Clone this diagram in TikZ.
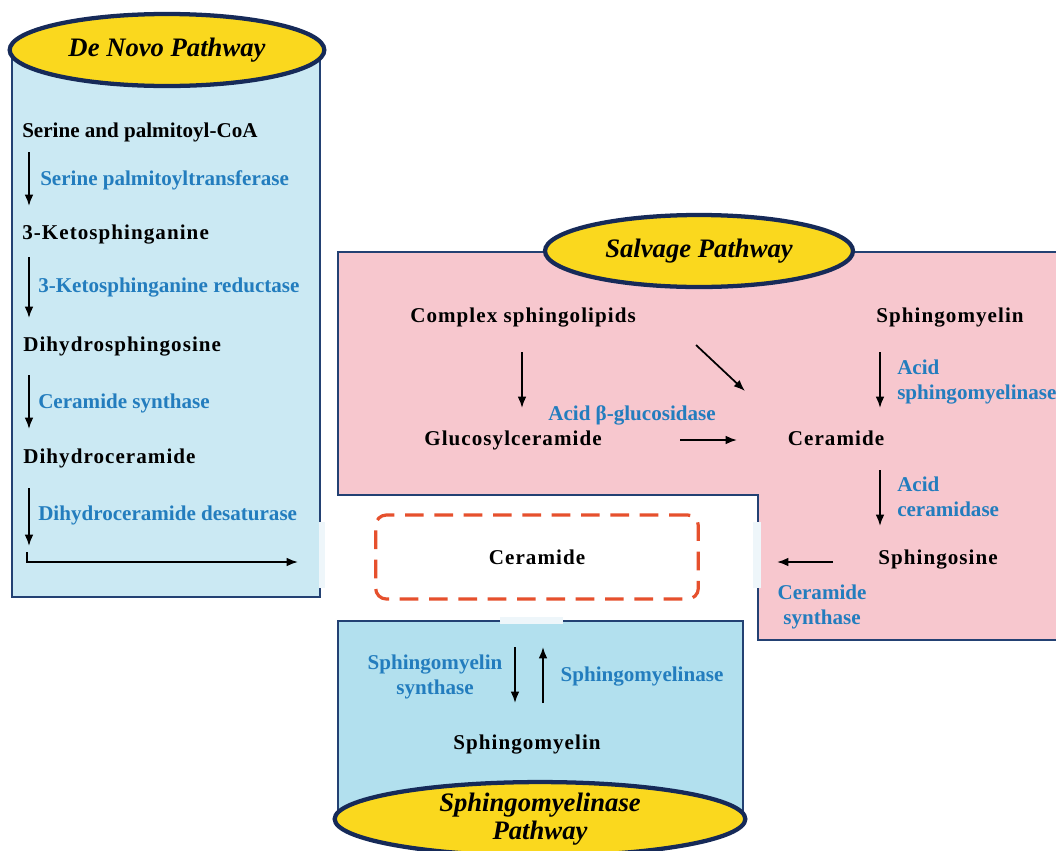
\documentclass[tikz,border=0pt]{standalone}
\usepackage{fontspec}
\setmainfont{Liberation Serif}
\newfontfamily\spfont[LetterSpace=5]{Liberation Serif}
\usetikzlibrary{arrows.meta,shapes.geometric}
\definecolor{denovo}{RGB}{203,233,243}
\definecolor{smbox}{RGB}{178,224,238}
\definecolor{pinkbox}{RGB}{247,199,206}
\definecolor{boxborder}{RGB}{35,65,115}
\definecolor{ellyellow}{RGB}{250,216,30}
\definecolor{ellborder}{RGB}{22,42,88}
\definecolor{enzblue}{RGB}{35,125,190}
\definecolor{dashred}{RGB}{230,80,45}
\definecolor{gapcol}{RGB}{238,246,250}
\begin{document}
\begin{tikzpicture}[x=0.75pt,y=-0.75pt,
  lbl/.style={font=\fontsize{15.8}{18.75}\selectfont\bfseries, text=black, inner sep=0},
  slbl/.style={font=\fontsize{15.8}{18.75}\selectfont\spfont\bfseries, text=black, inner sep=0},
  enz/.style={font=\fontsize{15.8}{18.75}\selectfont\bfseries, text=enzblue, inner sep=0},
  pathell/.style={ellipse, draw=ellborder, line width=3.2pt, fill=ellyellow, inner sep=0,
    font=\fontsize{20}{21}\selectfont\bfseries\itshape, align=center},
  arr/.style={-{Latex[length=8.5pt,width=6.5pt]}, line width=1.3pt},
  boxline/.style={draw=boxborder, line width=1.6pt}]
\useasboundingbox (0,0) rectangle (1056,850);
\fill[white] (0,0) rectangle (1056,850);

% ---------- De Novo box ----------
\fill[denovo] (12,50) rectangle (320,597);
\fill[gapcol] (319,522) rectangle (325,588);
\draw[boxline] (320,522) -- (320,50) -- (12,50) -- (12,597) -- (320,597) -- (320,588);
\node[pathell, minimum width=236pt, minimum height=54pt] (dnell) at (167,50) {De Novo Pathway};

\node[lbl, anchor=west] (dn1) at (22,132) {Serine and palmitoyl-CoA};
\node[slbl, anchor=west] (dn2) at (22,235) {3-Ketosphinganine};
\node[slbl, anchor=west] (dn3) at (23,347) {Dihydrosphingosine};
\node[slbl, anchor=west] (dn4) at (23,458) {Dihydroceramide};
\node[enz, anchor=west] (e1) at (40,180) {Serine palmitoyltransferase};
\node[enz, anchor=west] (e2) at (38,288) {3-Ketosphinganine reductase};
\node[enz, anchor=west] (e3) at (38,403) {Ceramide synthase};
\node[enz, anchor=west] (e4) at (38,515) {Dihydroceramide desaturase};
\coordinate (a1s) at (29,152); \coordinate (a1e) at (29,206);
\coordinate (a2s) at (29,257); \coordinate (a2e) at (29,318);
\coordinate (a3s) at (29,375); \coordinate (a3e) at (29,429);
\coordinate (a4s) at (29,488); \coordinate (a4e) at (29,546);
\coordinate (a5s) at (27,552); \coordinate (a5c) at (27,562); \coordinate (a5e) at (298,562);
\draw[arr] (a1s) -- (a1e);
\draw[arr] (a2s) -- (a2e);
\draw[arr] (a3s) -- (a3e);
\draw[arr] (a4s) -- (a4e);
\draw[arr] (a5s) -- (a5c) -- (a5e);

% ---------- Salvage box ----------
\fill[pinkbox] (338,252) -- (1070,252) -- (1070,640) -- (758,640) -- (758,495) -- (338,495) -- cycle;
\fill[gapcol] (753,522) rectangle (761,588);
\draw[boxline] (1070,252) -- (338,252) -- (338,495) -- (758,495) -- (758,522);
\draw[boxline] (758,588) -- (758,640) -- (1070,640);
\node[pathell, minimum width=231pt, minimum height=54pt] (svell) at (699,251) {Salvage Pathway};

\node[slbl] (cs) at (523,318) {Complex sphingolipids};
\node[slbl] (sm1) at (950,318) {Sphingomyelin};
\node[slbl] (gc) at (513,440) {Glucosylceramide};
\node[slbl] (cer2) at (836,438) {Ceramide};
\node[slbl] (sph) at (938,560) {Sphingosine};
\node[enz] (abg) at (632,415) {Acid β-glucosidase};
\node[enz, anchor=west, align=left] (asm) at (897,382) {Acid\\sphingomyelinase};
\node[enz, anchor=west, align=left] (acd) at (897,497) {Acid\\ceramidase};
\node[enz, align=center] (csy) at (822,607) {Ceramide\\synthase};
\coordinate (b1s) at (522,352); \coordinate (b1e) at (522,408);
\coordinate (b2s) at (696,345); \coordinate (b2e) at (745,391);
\coordinate (b3s) at (680,440); \coordinate (b3e) at (737,440);
\coordinate (b4s) at (880,352); \coordinate (b4e) at (880,408);
\coordinate (b5s) at (880,470); \coordinate (b5e) at (880,526);
\coordinate (b6s) at (833,562); \coordinate (b6e) at (777,562);
\draw[arr] (b1s) -- (b1e);
\draw[arr] (b2s) -- (b2e);
\draw[arr] (b3s) -- (b3e);
\draw[arr] (b4s) -- (b4e);
\draw[arr] (b5s) -- (b5e);
\draw[arr] (b6s) -- (b6e);

% ---------- central Ceramide ----------
\node[slbl, draw=dashred, line width=2.4pt, dash pattern=on 14pt off 8pt, rounded corners=8pt,
  minimum width=242pt, minimum height=63pt, fill=white] (cer) at (537,557) {Ceramide};

% ---------- Sphingomyelinase box ----------
\fill[smbox] (338,621) rectangle (743,818);
\fill[gapcol] (500,617) rectangle (563,624);
\draw[boxline] (500,621) -- (338,621) -- (338,818);
\draw[boxline] (563,621) -- (743,621) -- (743,818);
\node[enz, align=center] (sms) at (435,677) {Sphingomyelin\\synthase};
\node[enz] (smase) at (642,677) {Sphingomyelinase};
\node[slbl] (sm2) at (527,745) {Sphingomyelin};
\coordinate (c1s) at (515,647); \coordinate (c1e) at (515,703);
\coordinate (c2s) at (543,703); \coordinate (c2e) at (543,647);
\draw[arr] (c1s) -- (c1e);
\draw[arr] (c2s) -- (c2e);
\node[pathell, minimum width=308pt, minimum height=52pt] (smell) at (540,819) {Sphingomyelinase\\[0pt]Pathway};
\end{tikzpicture}
\end{document}
